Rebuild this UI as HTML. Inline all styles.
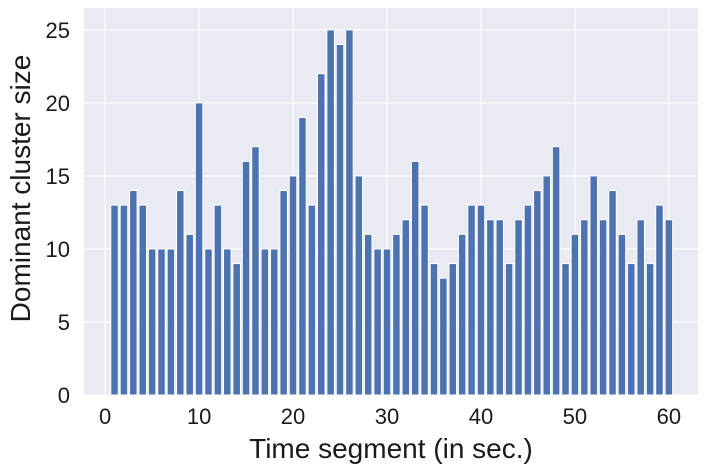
<!DOCTYPE html>
<html><head><meta charset="utf-8"><style>
body{margin:0;background:#fff;}
svg{display:block;font-family:"Liberation Sans",sans-serif;}
</style></head><body>
<svg id="chart" width="712" height="472"></svg>
<script>
const categories = Array.from({length:60},(_,i)=>i+1);
const values = [13,13,14,13,10,10,10,14,11,20,10,13,10,9,16,17,10,10,14,15,19,13,22,25,24,25,15,11,10,10,11,12,16,13,9,8,9,11,13,13,12,12,9,12,13,14,15,17,9,11,12,15,12,14,11,9,12,9,13,12];
const xTicks = [0,10,20,30,40,50,60];
const yTicks = [0,5,10,15,20,25];

const NS="http://www.w3.org/2000/svg";
const svg=document.getElementById('chart');
const L=84,R=698,T=8,B=395;
const xMin=-2.25,xMax=63.1,yMin=0,yMax=26.5;
const xs=v=>L+(v-xMin)/(xMax-xMin)*(R-L);
const ys=v=>B-(v-yMin)/(yMax-yMin)*(B-T);
function mk(tag,attrs,parent){const e=document.createElementNS(NS,tag);for(const k in attrs)e.setAttribute(k,attrs[k]);(parent||svg).appendChild(e);return e;}

const bg=mk('rect',{x:L,y:T,width:R-L,height:B-T,fill:'#eaeaf2'});



xTicks.forEach(t=>{
  const g=mk('line',{x1:xs(t),x2:xs(t),y1:T,y2:B,stroke:'#fff','stroke-width':1.25});
  
  
  const tx=mk('text',{x:xs(t),y:B+29,'text-anchor':'middle','font-size':22,fill:'#1a1a1a'});
  tx.textContent=t;
  
  
});
yTicks.forEach(t=>{
  const g=mk('line',{x1:L,x2:R,y1:ys(t),y2:ys(t),stroke:'#fff','stroke-width':1.25});
  
  
  const tx=mk('text',{x:L-14,y:ys(t)+8,'text-anchor':'end','font-size':22,fill:'#1a1a1a'});
  tx.textContent=t;
  
  
});

const w=0.8;
categories.forEach((c,i)=>{
  const x0=xs(c-w/2),x1=xs(c+w/2);
  const r=mk('rect',{x:x0,y:ys(values[i]),width:x1-x0,height:ys(0)-ys(values[i]),fill:'#4c72b0',stroke:'#fff','stroke-width':1});
  
  
});

const xt=mk('text',{x:(L+R)/2,y:458,'text-anchor':'middle','font-size':28,fill:'#1a1a1a'});
xt.textContent='Time segment (in sec.)';


const yt=mk('text',{x:0,y:0,'text-anchor':'middle','font-size':28,fill:'#1a1a1a',transform:`translate(30,${(T+B)/2-13}) rotate(-90)`});
yt.textContent='Dominant cluster size';


</script>
</body></html>
